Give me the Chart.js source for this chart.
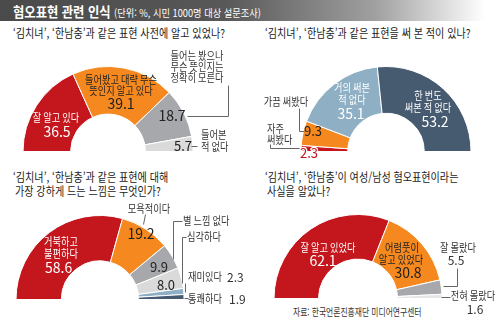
<!DOCTYPE html>
<html lang="ko">
<head>
<meta charset="utf-8">
<script src="https://cdn.jsdelivr.net/npm/chart.js@4"></script>
<style>
  html, body { margin: 0; padding: 0; background: #fff; }
  #page { position: relative; width: 500px; height: 322px; overflow: hidden;
          font-family: "Noto Sans CJK KR", "Noto Sans", sans-serif; }
  #page canvas { position: absolute; left: 0; top: 0; }
  .bar { position: absolute; left: 0; top: 0; width: 500px; height: 21px;
         background: linear-gradient(to right, #4a4a4a 0%, #585858 45%, #a0a0a0 75%, #fff 97%); }
  .squash { position: absolute; white-space: nowrap; transform-origin: 0 0; }
  .title { left: 13px; top: 1px; color: #fff; font-size: 14px; font-weight: 700; line-height: 20px;
           transform: scaleX(0.88); }
  .title small { font-size: 10.5px; font-weight: 400; }
  .q { color: #1a1a1a; font-size: 12px; line-height: 14px; transform: scaleX(0.84); }
  .src { left: 293px; top: 305px; color: #333; font-size: 10px; line-height: 14px; transform: scaleX(0.78); }
</style>
</head>
<body>
<div id="page">
  <div class="bar"></div>
  <div class="squash title">혐오표현 관련 인식 <small>(단위: %, 시민 1000명 대상 설문조사)</small></div>

  <div class="squash q" style="left:13px;top:26px">‘김치녀’, ‘한남충’과 같은 표현 사전에 알고 있었나?</div>
  <div class="squash q" style="left:265px;top:26px">‘김치녀’, ‘한남충’과 같은 표현을 써 본 적이 있나?</div>
  <div class="squash q" style="left:13px;top:170px">‘김치녀’, ‘한남충’과 같은 표현에 대해</div>
  <div class="squash q" style="left:15px;top:184px">가장 강하게 드는 느낌은 무엇인가?</div>
  <div class="squash q" style="left:265px;top:170px">‘김치녀’, ‘한남충’이 여성/남성 혐오표현이라는</div>
  <div class="squash q" style="left:267px;top:184px">사실을 알았나?</div>
  <div class="squash src">자료: 한국언론진흥재단 미디어연구센터</div>

  <canvas id="c1" width="500" height="322"></canvas>
  <canvas id="c2" width="500" height="322"></canvas>
  <canvas id="c3" width="500" height="322"></canvas>
  <canvas id="c4" width="500" height="322"></canvas>
</div>

<script>
// 설문 응답 (%)
var knowCats = ['잘 알고 있다', '들어봤고 대략 무슨 뜻인지 알고 있다', '들어는 봤으나 무슨 뜻인지는 정확히 모른다', '들어본 적 없다'];
var knowVals = [36.5, 39.1, 18.7, 5.7];

var useCats = ['자주 써봤다', '가끔 써봤다', '거의 써본 적 없다', '한 번도 써본 적 없다'];
var useVals = [2.3, 9.3, 35.1, 53.2];

var feelCats = ['거북하고 불편하다', '모욕적이다', '별 느낌 없다', '심각하다', '재미있다', '통쾌하다'];
var feelVals = [58.6, 19.2, 9.9, 8.0, 2.3, 1.9];

var awareCats = ['잘 알고 있었다', '어렴풋이 알고 있었다', '잘 몰랐다', '전혀 몰랐다'];
var awareVals = [62.1, 30.8, 5.5, 1.6];

var RED = '#c4161d', ORANGE = '#f5891f', GRAY = '#a6a8ab', LIGHT = '#dadada',
    SKY = '#8eafc4', SLATE = '#475b70';
var W = '#fff', D = '#222', N = '#333';
var FONT = '"Noto Sans CJK KR", "Noto Sans", sans-serif';

// 가로로 좁힌 글자 (원 서체가 장체라서)
function squashText(ctx, str, x, y, align, sx) {
    var w = ctx.measureText(str).width * sx;
    var left = align === 'center' ? x - w / 2 : (align === 'right' ? x - w : x);
    ctx.save();
    ctx.translate(left, y);
    ctx.scale(sx, 1);
    ctx.textAlign = 'left';
    ctx.fillText(str, 0, 0);
    ctx.restore();
}

// 조각 라벨 + 지시선
var sliceText = {
    id: 'sliceText',
    afterDatasetsDraw: function (chart, args, opts) {
        var ctx = chart.ctx;
        var vals = chart.data.datasets[0].data;
        ctx.save();
        ctx.strokeStyle = '#666';
        ctx.lineWidth = 1;
        (opts.lines || []).forEach(function (pts) {
            ctx.beginPath();
            pts.forEach(function (p, k) {
                if (k === 0) ctx.moveTo(p[0] + 0.5, p[1] + 0.5);
                else ctx.lineTo(p[0] + 0.5, p[1] + 0.5);
            });
            ctx.stroke();
        });
        ctx.textBaseline = 'middle';
        (opts.items || []).forEach(function (it) {
            var isVal = it.i !== undefined;
            var str = isVal ? vals[it.i].toFixed(1) : it.t;
            var size = it.s || (isVal ? 14 : 11.5);
            ctx.font = size + 'px ' + FONT;
            ctx.fillStyle = it.c || D;
            var align = it.a || 'center';
            if (it.halo) {
                ctx.save();
                ctx.strokeStyle = '#fff';
                ctx.lineWidth = 2.5;
                ctx.lineJoin = 'round';
                ctx.textAlign = align;
                ctx.strokeText(str, it.x, it.y);
                ctx.restore();
            }
            if (isVal) {
                ctx.textAlign = align;
                ctx.fillText(str, it.x, it.y);
            } else {
                squashText(ctx, str, it.x, it.y, align, 0.8);
            }
        });
        ctx.restore();
    }
};

function halfDonut(id, cats, vals, colors, cx, cy, r, cutout, text) {
    return new Chart(document.getElementById(id), {
        type: 'doughnut',
        data: {
            labels: cats,
            datasets: [{
                data: vals,
                backgroundColor: colors,
                borderColor: '#fff',
                borderWidth: 1
            }]
        },
        options: {
            responsive: false,
            animation: false,
            events: [],
            rotation: -90,
            circumference: 180,
            cutout: cutout,
            layout: { padding: { left: cx - r, right: 500 - cx - r, top: cy - r, bottom: 322 - cy } },
            plugins: {
                legend: { display: false },
                tooltip: { enabled: false },
                sliceText: text
            }
        },
        plugins: [sliceText]
    });
}

halfDonut('c1', knowCats, knowVals, [RED, ORANGE, GRAY, LIGHT], 108, 152, 86, '44%', {
    items: [
        { t: '잘 알고 있다', x: 56, y: 118, c: W },
        { i: 0, x: 57, y: 132, c: W },
        { t: '들어봤고 대략 무슨', x: 121, y: 80 },
        { t: '뜻인지 알고 있다', x: 121, y: 91 },
        { i: 1, x: 121, y: 104 },
        { i: 2, x: 172, y: 116 },
        { t: '들어는 봤으나', x: 197, y: 56, c: N },
        { t: '무슨 뜻인지는', x: 197, y: 67, c: N },
        { t: '정확히 모른다', x: 197, y: 78, c: N },
        { i: 3, x: 183, y: 146, s: 13 },
        { t: '들어본', x: 201, y: 135, a: 'left', c: N },
        { t: '적 없다', x: 201, y: 147, a: 'left', c: N }
    ],
    lines: [[[187, 116], [228, 116], [228, 85]], [[191, 146], [197, 146]]]
});

halfDonut('c2', useCats, useVals, [RED, ORANGE, SKY, SLATE], 386, 152, 86, '45%', {
    items: [
        { t: '한 번도', x: 428, y: 96, c: W },
        { t: '써본 적 없다', x: 428, y: 108, c: W },
        { i: 3, x: 435, y: 122, c: W },
        { t: '거의 써본', x: 352, y: 88, c: W },
        { t: '적 없다', x: 352, y: 100, c: W },
        { i: 2, x: 351, y: 114, c: W },
        { i: 1, x: 313, y: 131, s: 13 },
        { t: '가끔 써봤다', x: 286, y: 102, c: N },
        { i: 0, x: 309, y: 153, s: 13, c: RED, halo: true },
        { t: '자주', x: 267, y: 129, a: 'left', c: N },
        { t: '써봤다', x: 267, y: 140, a: 'left', c: N }
    ],
    lines: [[[299, 108], [299, 131], [304, 131]], [[270, 144], [270, 148], [300, 148]]]
});

halfDonut('c3', feelCats, feelVals, [RED, ORANGE, GRAY, LIGHT, SKY, SLATE], 100, 300, 85, '46%', {
    items: [
        { t: '거북하고', x: 44, y: 242, a: 'left', c: W },
        { t: '불편하다', x: 44, y: 254, a: 'left', c: W },
        { i: 0, x: 45, y: 268, a: 'left', c: W },
        { i: 1, x: 141, y: 234 },
        { t: '모욕적이다', x: 149, y: 209, c: N },
        { i: 2, x: 159, y: 267, s: 13 },
        { t: '별 느낌 없다', x: 183, y: 221, a: 'left', c: N },
        { i: 3, x: 166, y: 285, s: 13 },
        { t: '심각하다', x: 187, y: 237, a: 'left', c: N },
        { t: '재미있다', x: 188, y: 277, a: 'left', c: N },
        { i: 4, x: 227, y: 277, a: 'left', s: 12, c: N },
        { t: '통쾌하다', x: 188, y: 299, a: 'left', c: N },
        { i: 5, x: 229, y: 299, a: 'left', s: 12, c: N }
    ],
    lines: [[[145, 214], [143, 224]], [[182, 221], [173, 221], [173, 259]],
            [[186, 237], [182, 237], [182, 283]], [[185, 283], [185, 292]], [[184, 298], [188, 298]]]
});

halfDonut('c4', awareCats, awareVals, [RED, ORANGE, GRAY, '#e6e6e6'], 358, 299, 85, '47%', {
    items: [
        { t: '잘 알고 있었다', x: 328, y: 248, c: W },
        { i: 0, x: 323, y: 261, c: W },
        { t: '어렴풋이', x: 402, y: 248 },
        { t: '알고 있었다', x: 401, y: 260 },
        { i: 1, x: 408, y: 273 },
        { t: '잘 몰랐다', x: 458, y: 248, c: N },
        { i: 2, x: 456, y: 260, s: 12, c: N },
        { t: '전혀 몰랐다', x: 473, y: 296, c: N },
        { i: 3, x: 475, y: 309, s: 12, c: N }
    ],
    lines: [[[443, 286], [457, 286], [457, 268]], [[441, 297], [450, 297]]]
});
</script>
</body>
</html>
